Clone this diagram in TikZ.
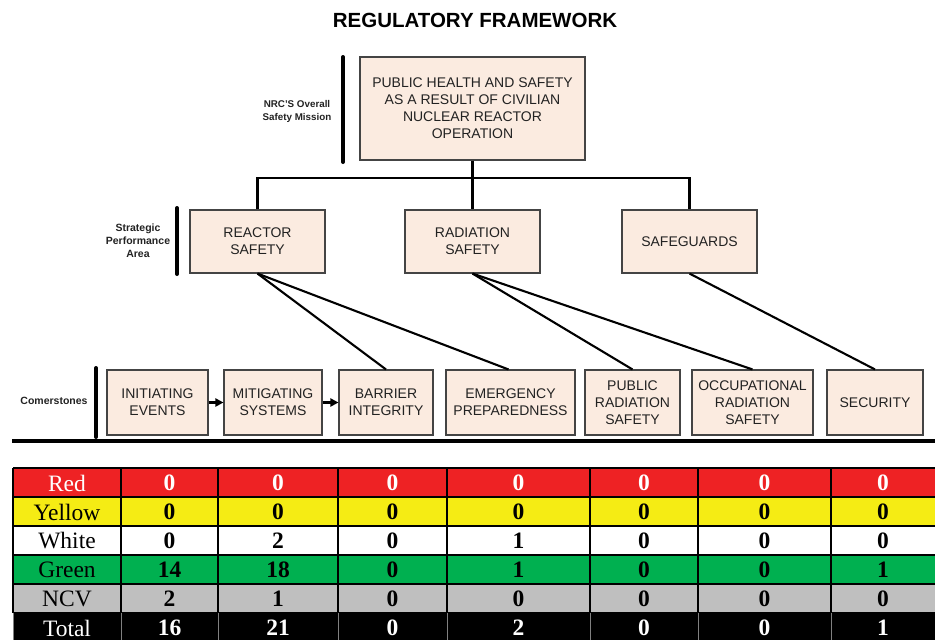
\documentclass[tikz,border=0pt]{standalone}
\usepackage{fontspec}
\setmainfont{Liberation Sans}
\newfontfamily\tabfont{Liberation Serif}
\usetikzlibrary{calc,arrows.meta}
\definecolor{boxfill}{HTML}{FBEBE0}
\definecolor{boxline}{HTML}{444444}
\definecolor{boxtext}{HTML}{222222}
\definecolor{tRed}{HTML}{EE2224}
\definecolor{tYellow}{HTML}{F5EC14}
\definecolor{tGreen}{HTML}{00B050}
\definecolor{tGray}{HTML}{BFBFBF}
\begin{document}
\begin{tikzpicture}[x=1pt,y=-1pt,
  box/.style={draw=boxline, line width=1.1pt, fill=boxfill, align=center, inner sep=0pt,
    font=\fontsize{14}{17}\selectfont, text=boxtext},
  sidelabel/.style={align=center, inner sep=0pt, font=\fontsize{9.8}{13}\selectfont\bfseries, text=boxtext},
  bar/.style={line width=4pt, line cap=round},
  conn/.style={line width=2.1pt},
  flow/.style={line width=2.2pt, -{Triangle[length=8pt,width=8pt]}},
  cell/.style={inner sep=0pt, anchor=center, font=\tabfont\fontsize{23.5}{23.5}\selectfont}
]
\useasboundingbox (0,0) rectangle (935,640);

% title
\node[font=\fontsize{20.5}{24}\selectfont\bfseries] (title) at (475,20) {REGULATORY FRAMEWORK};

% mission
\node[box, minimum width=225pt, minimum height=103pt] (mission) at (472.5,108.5)
  {PUBLIC HEALTH AND SAFETY\\AS A RESULT OF CIVILIAN\\NUCLEAR REACTOR\\OPERATION};
\coordinate (b1t) at (343,57);
\coordinate (b1b) at (343,162);
\draw[bar] (b1t) -- (b1b);
\node[sidelabel] (lab1) at (297,111) {NRC'S Overall\\Safety Mission};

% strategic areas
\node[box, minimum width=135pt, minimum height=63pt] (rs) at (257.5,241.5) {REACTOR\\SAFETY};
\node[box, minimum width=135pt, minimum height=63pt] (rad) at (472.5,241.5) {RADIATION\\SAFETY};
\node[box, minimum width=135pt, minimum height=63pt] (sg) at (689.5,241.5) {SAFEGUARDS};
\coordinate (b2t) at (177,208);
\coordinate (b2b) at (177,274);
\draw[bar] (b2t) -- (b2b);
\node[sidelabel, font=\fontsize{10.5}{13}\selectfont\bfseries] (lab2) at (138,241) {Strategic\\Performance\\Area};

\coordinate (hub) at (472.5,178);
\draw[conn] (mission.south) -- (hub);
\draw[conn] (rs.north) |- (hub) -| (sg.north);
\draw[conn] (hub) -- (rad.north);

% cornerstones
\node[box, minimum width=101pt, minimum height=65pt] (ie) at (157.5,402.5) {INITIATING\\EVENTS};
\node[box, minimum width=98pt, minimum height=65pt] (ms) at (273,402.5) {MITIGATING\\SYSTEMS};
\node[box, minimum width=94pt, minimum height=65pt] (bi) at (386,402.5) {BARRIER\\INTEGRITY};
\node[box, minimum width=129pt, minimum height=65pt] (ep) at (510.5,402.5) {EMERGENCY\\PREPAREDNESS};
\node[box, minimum width=95pt, minimum height=65pt] (prs) at (632.5,402.5) {PUBLIC\\RADIATION\\SAFETY};
\node[box, minimum width=121pt, minimum height=65pt] (ors) at (752.5,402.5) {OCCUPATIONAL\\RADIATION\\SAFETY};
\node[box, minimum width=96pt, minimum height=65pt] (sec) at (875,402.5) {SECURITY};
\coordinate (b3t) at (96,368);
\coordinate (b3b) at (96,437);
\draw[bar] (b3t) -- (b3b);
\node[sidelabel, font=\fontsize{10.5}{13}\selectfont\bfseries] (lab3) at (54,401) {Comerstones};

\draw[flow] (ie.east) -- (ms.west);
\draw[flow] (ms.east) -- (bi.west);

\draw[conn] (rs.south) -- (bi.north);
\draw[conn] (rs.south) -- ([xshift=-2pt]ep.north);
\draw[conn] (rad.south) -- (prs.north);
\draw[conn] (rad.south) -- (ors.north);
\draw[conn] (sg.south) -- (sec.north);

% separator
\coordinate (sepL) at (12,441);
\coordinate (sepR) at (935,441);
\draw[line width=4pt] (sepL) -- (sepR);

% table
\foreach \lab/\fillc/\txtc/\vals [count=\i from 0] in {
  Red/tRed/white/{0,0,0,0,0,0,0},
  Yellow/tYellow/black/{0,0,0,0,0,0,0},
  White/white/black/{0,2,0,1,0,0,0},
  Green/tGreen/black/{14,18,0,1,0,0,1},
  NCV/tGray/black/{2,1,0,0,0,0,0},
  Total/black/white/{16,21,0,2,0,0,1}}{
  \pgfmathsetmacro\ytop{468+29*\i}
  \pgfmathsetmacro\ymid{\ytop+15}
  \fill[\fillc] (13,\ytop) rectangle (935,\ytop+29);
  \node[cell, text=\txtc] (r\i-lab) at (67,\ymid) {\lab};
  \foreach \v [count=\j] in \vals {
    \pgfmathsetmacro\xl{{13,121,218,338,447,590,698,831,935}[\j]}
    \pgfmathsetmacro\xr{{13,121,218,338,447,590,698,831,935}[\j+1]}
    \node[cell, text=\txtc, font=\tabfont\fontsize{23.5}{23.5}\selectfont\bfseries] (r\i-c\j) at ({(\xl+\xr)/2},\ymid) {\v};
  }
}
% grid lines
\foreach \y in {468,497,526,555,584,613}{
  \draw[line width=2pt] (13,\y) -- (935,\y);
}
\foreach \x in {13,121,218,338,447,590,698,831}{
  \draw[line width=2pt] (\x,468) -- (\x,613);
  \draw[line width=0.6pt, gray] (\x,613) -- (\x,640);
}
\end{tikzpicture}
\end{document}
